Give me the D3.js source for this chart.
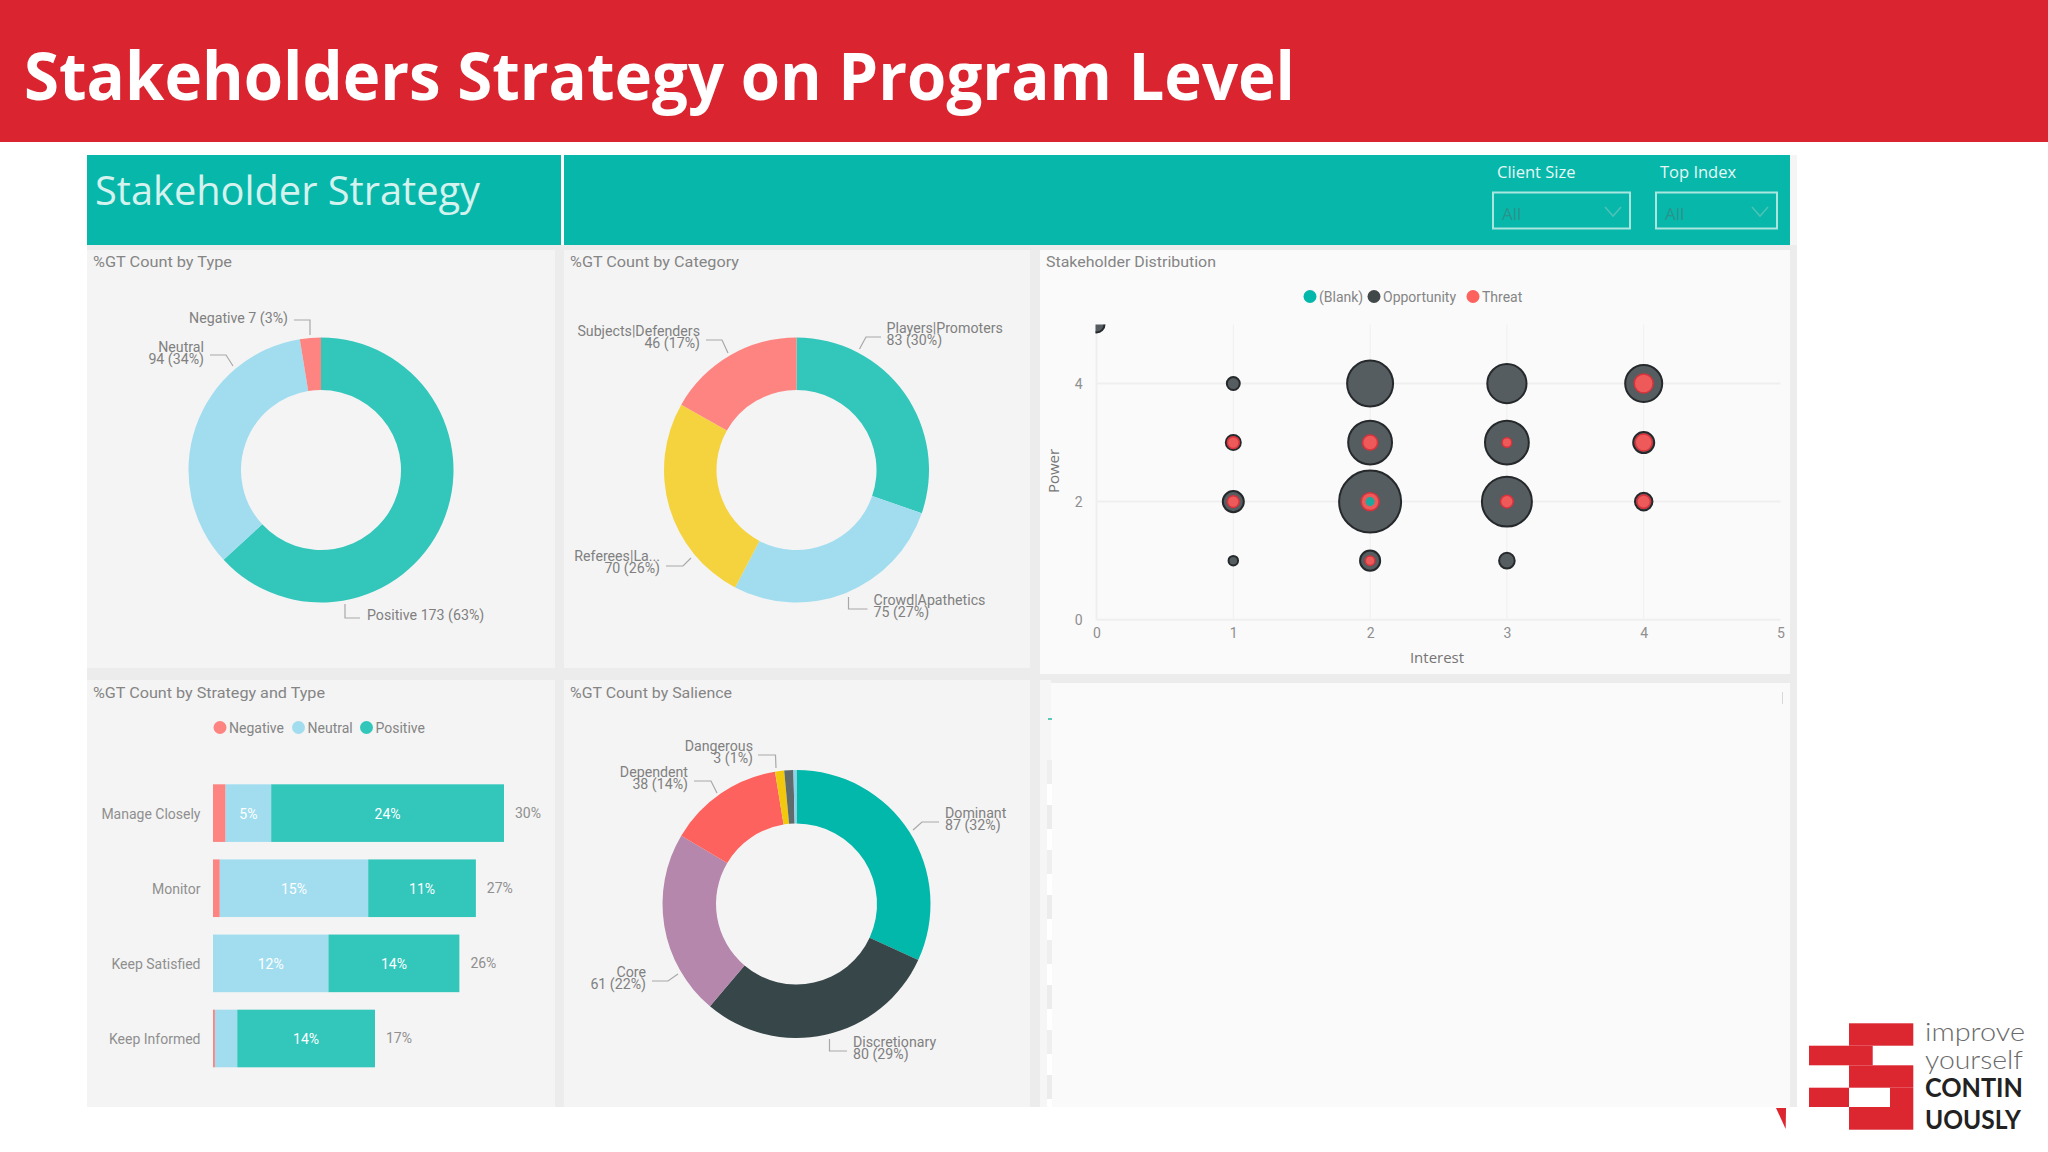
<!DOCTYPE html>
<html lang="en">

<head>
    <title>Stakeholders Strategy on Program Level</title>
    <meta charset="UTF-8">
    <script src="https://d3js.org/d3.v7.min.js"></script>
    <style>
        html, body { margin: 0; padding: 0; background: #fff; }
        svg { display: block; }
        text { font-family: Roboto, sans-serif; }
        .panel_title { font-size: 15.5px; fill: #858585; }
        .donut_label { font-size: 14.2px; fill: #808080; }
        .tick_label { font-size: 14px; fill: #8f8f8f; }
        .legend_text { font-size: 14px; fill: #858585; }
        .axis_title { font-size: 15px; fill: #757575; font-family: "Open Sans", sans-serif; }
    </style>
</head>

<body>
    <svg width="2048" height="1152" viewBox="0 0 2048 1152"></svg>

    <script>
        // donut: type
        const typeNames = ["Positive", "Neutral", "Negative"];
        const typeValues = [173, 94, 7];
        const typeColors = ["#33c6bb", "#a1ddef", "#fd8481"];

        // donut: category
        const categoryNames = ["Players|Promoters", "Crowd|Apathetics", "Referees|La...", "Subjects|Defenders"];
        const categoryValues = [83, 75, 70, 46];
        const categoryPct = ["30%", "27%", "26%", "17%"];
        const categoryColors = ["#33c6bb", "#a1ddef", "#f5d33f", "#fd8481"];

        // donut: salience (last two slices carry no label in the picture)
        const salienceNames = ["Dominant", "Discretionary", "Core", "Dependent", "Dangerous", "Demanding", "Dormant"];
        const salienceValues = [87, 80, 61, 38, 3, 3, 1];
        const saliencePct = ["32%", "29%", "22%", "14%", "1%", "", ""];
        const salienceColors = ["#01b8aa", "#374649", "#b687ac", "#fd625e", "#f2c80f", "#5f6b6d", "#8ad4eb"];

        // stacked bars, percent of GT count
        const strategies = ["Manage Closely", "Monitor", "Keep Satisfied", "Keep Informed"];
        const barNegative = [1.3, 0.7, 0, 0.2];
        const barNeutral = [4.7, 15.3, 11.9, 2.3];
        const barPositive = [24, 11.1, 13.5, 14.2];
        const neutralLabels = ["5%", "15%", "12%", ""];
        const positiveLabels = ["24%", "11%", "14%", "14%"];
        const totalLabels = ["30%", "27%", "26%", "17%"];

        // bubbles: interest, power, size
        const oppInterest = [0, 1, 2, 3, 4, 1, 2, 3, 4, 1, 2, 3, 4, 1, 2, 3];
        const oppPower = [5, 4, 4, 4, 4, 3, 3, 3, 3, 2, 2, 2, 2, 1, 1, 1];
        const oppSize = [4, 2.6, 33, 24, 21.4, 3.5, 30, 30, 6.9, 6.9, 60, 39, 4.8, 1.4, 6.3, 3.8];
        const threatInterest = [4, 1, 2, 3, 4, 1, 2, 3, 4, 2];
        const threatPower = [4, 3, 3, 3, 3, 2, 2, 2, 2, 1];
        const threatSize = [5.6, 2.2, 3.5, 1.4, 4.5, 2.2, 5, 2.5, 2.8, 1.4];
        const blankInterest = [2];
        const blankPower = [2];
        const blankSize = [1.3];

        const svg = d3.select("svg");
        const pie = d3.pie().sort(null);

        // page furniture
        svg.append("rect").attr("width", 2048).attr("height", 142).attr("fill", "#da2530");
        svg.append("text").attr("x", 24).attr("y", 100)
            .attr("textLength", 1271).attr("lengthAdjust", "spacingAndGlyphs")
            .style("font-family", "'Open Sans', sans-serif").style("font-weight", 700)
            .style("font-size", "67px").attr("fill", "#fff")
            .text("Stakeholders Strategy on Program Level");

        // grey canvas behind the tiles, then header and tiles
        svg.append("rect").attr("x", 1790).attr("y", 155).attr("width", 7).attr("height", 90).attr("fill", "#f5f5f5");
        svg.append("rect").attr("x", 87).attr("y", 245).attr("width", 1710).attr("height", 862).attr("fill", "#ececec");
        svg.append("rect").attr("x", 87).attr("y", 155).attr("width", 474).attr("height", 90).attr("fill", "#07b7aa");
        svg.append("rect").attr("x", 564).attr("y", 155).attr("width", 1226).attr("height", 90).attr("fill", "#07b7aa");

        function tile(x, y, w, h, color) {
            svg.append("rect").attr("x", x).attr("y", y).attr("width", w).attr("height", h).attr("fill", color);
        }
        tile(87, 250, 468, 418, "#f4f4f4");
        tile(564, 250, 466, 418, "#f4f4f4");
        tile(1040, 250, 750, 424, "#fafafa");
        tile(87, 680, 468, 427, "#f4f4f4");
        tile(564, 680, 466, 427, "#f4f4f4");
        tile(1051, 683, 739, 424, "#fafafa");
        tile(1040, 680, 11, 427, "#f6f6f6");
        // the torn strip on the left of the empty tile
        d3.range(8).forEach(i => {
            tile(1047, 760 + i * 45, 5, 24, i % 2 ? "#ececec" : "#efefef");
            tile(1047, 784 + i * 45, 5, 21, "#fff");
        });
        tile(1048, 718, 4, 2, "#5cc8b8");
        tile(1782, 692, 1, 12, "#d8d8d8");

        svg.append("text").attr("x", 95).attr("y", 205)
            .attr("textLength", 385).attr("lengthAdjust", "spacingAndGlyphs")
            .style("font-family", "'Open Sans', sans-serif").style("font-weight", 400)
            .style("font-size", "41px").attr("fill", "#d4f2ee").text("Stakeholder Strategy");

        // slicers
        [[1497, 1493, 137, "Client Size"], [1660, 1656, 121, "Top Index"]].forEach(s => {
            svg.append("text").attr("x", s[0]).attr("y", 178).style("font-family", "'Open Sans', sans-serif")
                .style("font-size", "16.5px").attr("fill", "#e6f8f6").text(s[3]);
            svg.append("rect").attr("x", s[1]).attr("y", 192.5).attr("width", s[2]).attr("height", 36)
                .attr("fill", "none").attr("stroke", "#a9e6df").attr("stroke-width", 2);
            svg.append("text").attr("x", s[1] + 9).attr("y", 220).style("font-family", "'Open Sans', sans-serif")
                .style("font-size", "17px").attr("fill", "#2a948a").text("All");
            const cx = s[1] + s[2] - 17;
            svg.append("path").attr("d", `M${cx - 8},207 L${cx},216 L${cx + 8},207`)
                .attr("fill", "none").attr("stroke", "#4fc2b7").attr("stroke-width", 1.5);
        });

        // panel titles
        [[93, 267, 139, "%GT Count by Type"], [570, 267, 169, "%GT Count by Category"],
        [1046, 267, 170, "Stakeholder Distribution"], [93, 698, 232, "%GT Count by Strategy and Type"],
        [570, 698, 162, "%GT Count by Salience"]].forEach(t => {
            svg.append("text").attr("class", "panel_title").attr("x", t[0]).attr("y", t[1])
                .attr("textLength", t[2]).attr("lengthAdjust", "spacingAndGlyphs").text(t[3]);
        });

        function donut(cx, cy, rOuter, rInner, values, colors) {
            const arc = d3.arc().innerRadius(rInner).outerRadius(rOuter);
            svg.append("g").attr("transform", `translate(${cx},${cy})`)
                .selectAll("path").data(pie(values)).enter().append("path")
                .attr("d", arc)
                .attr("fill", (d, i) => colors[i]);
        }

        // leader: points of the elbow, anchor: text end, lines: one or two rows
        function callout(leader, anchor, x, y, lines) {
            svg.append("path").attr("d", d3.line()(leader))
                .attr("fill", "none").attr("stroke", "#a8a8a8").attr("stroke-width", 1.2);
            lines.forEach((s, i) => {
                svg.append("text").attr("class", "donut_label").attr("x", x).attr("y", y - 1 + i * 12.3)
                    .attr("text-anchor", anchor).attr("dominant-baseline", "central").text(s);
            });
        }

        donut(321, 470, 132.5, 80, typeValues, typeColors);
        callout([[294, 320], [310, 320], [310, 335]], "end", 288, 319, [`${typeNames[2]} ${typeValues[2]} (3%)`]);
        callout([[210, 355], [226, 355], [233, 366]], "end", 204, 348, [typeNames[1], `${typeValues[1]} (34%)`]);
        callout([[345, 604], [345, 618], [360, 618]], "start", 367, 616, [`${typeNames[0]} ${typeValues[0]} (63%)`]);

        donut(796.5, 470, 132.5, 80, categoryValues, categoryColors);
        const catRow = i => [categoryNames[i], `${categoryValues[i]} (${categoryPct[i]})`];
        callout([[859.5, 349], [866, 337], [881, 337]], "start", 886.5, 329, catRow(0));
        callout([[848.5, 597], [848.5, 609], [867.5, 609]], "start", 873.5, 601, catRow(1));
        callout([[666, 566], [683, 566], [691, 558]], "end", 660, 557, catRow(2));
        callout([[706, 340], [722, 340], [728, 353]], "end", 700, 332, catRow(3));

        donut(796.5, 904, 134, 80.5, salienceValues, salienceColors);
        const salRow = i => [salienceNames[i], `${salienceValues[i]} (${saliencePct[i]})`];
        callout([[913, 830], [922, 822], [939, 822]], "start", 945, 814, salRow(0));
        callout([[829.5, 1039], [829.5, 1051], [847, 1051]], "start", 853, 1043, salRow(1));
        callout([[652, 981], [668, 981], [678, 974]], "end", 646, 973, salRow(2));
        callout([[694, 781], [711, 781], [717, 793]], "end", 688, 773, salRow(3));
        callout([[758, 755], [775.5, 755], [776, 768]], "end", 753, 747, salRow(4));

        function legend(y, items) {
            items.forEach(it => {
                svg.append("circle").attr("cx", it[0]).attr("cy", y).attr("r", 6.5).attr("fill", it[2]);
                svg.append("text").attr("class", "legend_text").attr("x", it[0] + 9).attr("y", y)
                    .attr("dominant-baseline", "central").text(it[1]);
            });
        }

        // stacked bars
        const barX = d3.scaleLinear().domain([0, 30]).range([213, 504]);
        const barY = d3.scaleBand().domain(strategies).range([784.3, 1067.3]).paddingInner(0.233).paddingOuter(0);
        const stackRows = strategies.map((s, i) => ({ strategy: s, Negative: barNegative[i], Neutral: barNeutral[i], Positive: barPositive[i] }));
        const stacked = d3.stack().keys(["Negative", "Neutral", "Positive"])(stackRows);
        const barColors = { Negative: "#fd8481", Neutral: "#a1ddef", Positive: "#33c6bb" };
        const barLabels = { Negative: [], Neutral: neutralLabels, Positive: positiveLabels };

        stacked.forEach(series => {
            const g = svg.append("g");
            g.selectAll("rect").data(series).enter().append("rect")
                .attr("x", d => barX(d[0]))
                .attr("y", d => barY(d.data.strategy))
                .attr("width", d => barX(d[1]) - barX(d[0]))
                .attr("height", barY.bandwidth())
                .attr("fill", barColors[series.key]);
            g.selectAll("text").data(series).enter().append("text")
                .attr("x", d => (barX(d[0]) + barX(d[1])) / 2)
                .attr("y", d => barY(d.data.strategy) + barY.bandwidth() / 2 + 1)
                .attr("text-anchor", "middle").attr("dominant-baseline", "central")
                .style("font-size", "14px")
                .attr("fill", "#fff")
                .text((d, i) => barLabels[series.key][i] || "");
        });
        svg.append("g").selectAll("text").data(strategies).enter().append("text")
            .attr("class", "tick_label").attr("x", 200.5)
            .attr("y", d => barY(d) + barY.bandwidth() / 2 + 1)
            .attr("text-anchor", "end").attr("dominant-baseline", "central").text(d => d);
        svg.append("g").selectAll("text").data(stacked[2]).enter().append("text")
            .attr("class", "tick_label")
            .attr("x", d => barX(d[1]) + 11)
            .attr("y", d => barY(d.data.strategy) + barY.bandwidth() / 2 - 0.5)
            .attr("dominant-baseline", "central").text((d, i) => totalLabels[i]);
        legend(727.5, [[220, "Negative", "#fd8481"], [298.5, "Neutral", "#a1ddef"], [366.5, "Positive", "#33c6bb"]]);

        // bubble chart
        const x = d3.scaleLinear().domain([0, 5]).range([1096.5, 1780.5]);
        const y = d3.scaleLinear().domain([0, 5]).range([619.7, 324.5]);
        const r = d3.scaleSqrt().domain([0, 60]).range([0, 31]);

        svg.append("defs").append("clipPath").attr("id", "plot_clip").append("rect")
            .attr("x", x(0) - 1).attr("y", y(5)).attr("width", x(5) - x(0) + 1).attr("height", y(0) - y(5));

        const grid = svg.append("g").attr("stroke", "#efefef");
        [1, 2, 3, 4].forEach(v => {
            grid.append("line").attr("x1", x(v)).attr("x2", x(v)).attr("y1", y(5)).attr("y2", y(0)).attr("stroke-width", 1);
        });
        [2, 4].forEach(v => {
            grid.append("line").attr("x1", x(0)).attr("x2", x(5)).attr("y1", y(v)).attr("y2", y(v)).attr("stroke-width", 2);
        });
        grid.append("line").attr("x1", x(0)).attr("x2", x(5)).attr("y1", y(0)).attr("y2", y(0)).attr("stroke-width", 2);
        grid.append("line").attr("x1", x(0)).attr("x2", x(0)).attr("y1", y(5)).attr("y2", y(0)).attr("stroke-width", 2);

        const xAxis = d3.axisBottom(x).tickValues([0, 1, 2, 3, 4, 5]).tickFormat(d3.format("d")).tickSize(0).tickPadding(8);
        const yAxis = d3.axisLeft(y).tickValues([0, 2, 4]).tickFormat(d3.format("d")).tickSize(0).tickPadding(14);
        [svg.append("g").attr("transform", `translate(0,${y(0)})`).call(xAxis),
        svg.append("g").attr("transform", `translate(${x(0)},0)`).call(yAxis)].forEach(ax => {
            ax.select(".domain").remove();
            ax.selectAll("text").attr("class", "tick_label").attr("fill", null).style("font-family", "Roboto, sans-serif");
        });

        svg.append("text").attr("class", "axis_title").attr("x", 1437).attr("y", 657)
            .attr("text-anchor", "middle").attr("dominant-baseline", "central").text("Interest");
        svg.append("text").attr("class", "axis_title").attr("text-anchor", "middle").attr("dominant-baseline", "central")
            .attr("transform", "translate(1053,471) rotate(-90)").text("Power");

        function bubbles(xs, ys, sizes, fill, stroke, width) {
            svg.append("g").attr("clip-path", "url(#plot_clip)")
                .selectAll("circle").data(sizes).enter().append("circle")
                .attr("cx", (d, i) => x(xs[i]))
                .attr("cy", (d, i) => y(ys[i]))
                .attr("r", d => r(d))
                .attr("fill", fill).attr("stroke", stroke).attr("stroke-width", width);
        }
        bubbles(oppInterest, oppPower, oppSize, "#565d60", "#26292b", 2);
        bubbles(threatInterest, threatPower, threatSize, "#ee5a59", "#d8323c", 1.5);
        bubbles(blankInterest, blankPower, blankSize, "#1fa89e", "#d8323c", 0);
        legend(296.5, [[1310, "(Blank)", "#01b8aa"], [1374, "Opportunity", "#41484a"], [1473, "Threat", "#fd625e"]]);

        // logo
        const logo = svg.append("g").attr("fill", "#dc2630");
        [[1849, 1023.3, 64.3, 22.4], [1809, 1045.7, 63.7, 19.6], [1849, 1065.3, 64.3, 22.4], [1890, 1087.7, 23.3, 19.3],
        [1809, 1087.7, 40, 19.3], [1849, 1107, 64.3, 22.7]].forEach(b => {
            logo.append("rect").attr("x", b[0]).attr("y", b[1]).attr("width", b[2]).attr("height", b[3]);
        });
        svg.append("path").attr("d", "M1776,1108 L1786,1108 L1785.7,1129 Z").attr("fill", "#dc2630");

        // smaller font, same width: the two light lines no longer touch
        [["improve", 1041, 100], ["yourself", 1069, 98]].forEach(t => {
            svg.append("text").attr("x", 1925).attr("y", t[1]).attr("textLength", t[2]).attr("lengthAdjust", "spacingAndGlyphs")
                .style("font-family", "Lato, sans-serif").style("font-weight", 300).style("font-size", "25px")
                .attr("fill", "#6a6a6a").text(t[0]);
        });
        [["CONTIN", 1097, 98], ["UOUSLY", 1129, 96]].forEach(t => {
            svg.append("text").attr("x", 1925).attr("y", t[1]).attr("textLength", t[2]).attr("lengthAdjust", "spacingAndGlyphs")
                .style("font-family", "Lato, sans-serif").style("font-weight", 700).style("font-size", "27px")
                .attr("fill", "#222").text(t[0]);
        });
    </script>

</body>

</html>
